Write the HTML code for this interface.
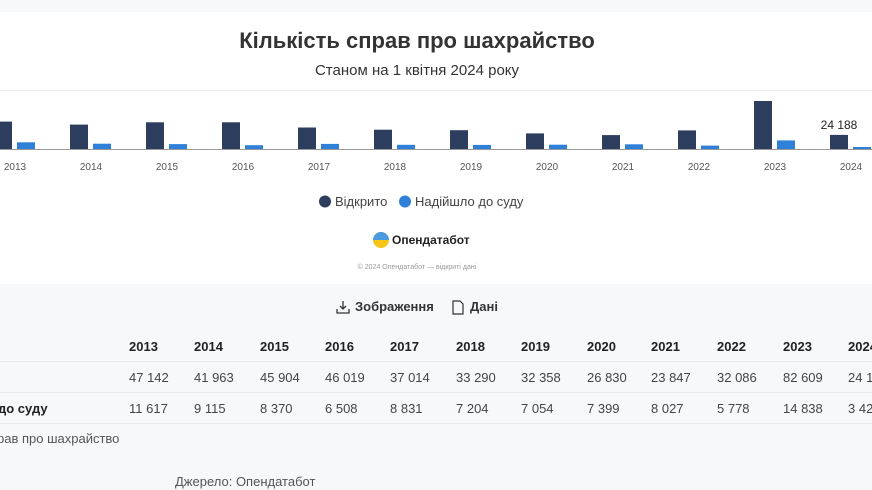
<!DOCTYPE html>
<html><head><meta charset="utf-8"><style>
body{margin:0;width:872px;height:490px;background:#f7f8fa;font-family:"Liberation Sans","DejaVu Sans",sans-serif;position:relative;overflow:hidden;color:#333}
.card{position:absolute;left:0;top:12px;width:872px;height:272px;background:#fff}
.t{position:absolute;white-space:nowrap}
.c{text-align:center}
.hd{font-weight:bold;font-size:13px;color:#222}
.v{font-size:13px;color:#444}
.sep{position:absolute;left:0;width:872px;height:1px;background:#e9ebee}
</style></head><body>
<div class="card"></div>
<div class="t c" style="left:0;width:834px;top:28px;font-size:22px;font-weight:bold;color:#333">Кількість справ про шахрайство</div>
<div class="t c" style="left:0;width:834px;top:62px;font-size:15px;color:#333">Станом на 1 квітня 2024 року</div>
<div class="sep" style="top:90px;background:#ececec"></div>
<svg style="position:absolute;left:0;top:0" width="872" height="290">
<g fill="#2d3d5e">
<rect x="-6" y="121.6" width="18" height="27.4"/>
<rect x="70" y="124.6" width="18" height="24.4"/>
<rect x="146" y="122.3" width="18" height="26.7"/>
<rect x="222" y="122.3" width="18" height="26.7"/>
<rect x="298" y="127.5" width="18" height="21.5"/>
<rect x="374" y="129.7" width="18" height="19.3"/>
<rect x="450" y="130.2" width="18" height="18.8"/>
<rect x="526" y="133.4" width="18" height="15.6"/>
<rect x="602" y="135.1" width="18" height="13.9"/>
<rect x="678" y="130.4" width="18" height="18.6"/>
<rect x="754" y="101" width="18" height="48"/>
<rect x="830" y="134.9" width="18" height="14.1"/>
</g>
<g fill="#2f80d8">
<rect x="17" y="142.3" width="18" height="6.7"/>
<rect x="93" y="143.7" width="18" height="5.3"/>
<rect x="169" y="144.1" width="18" height="4.9"/>
<rect x="245" y="145.2" width="18" height="3.8"/>
<rect x="321" y="143.9" width="18" height="5.1"/>
<rect x="397" y="144.8" width="18" height="4.2"/>
<rect x="473" y="144.9" width="18" height="4.1"/>
<rect x="549" y="144.7" width="18" height="4.3"/>
<rect x="625" y="144.3" width="18" height="4.7"/>
<rect x="701" y="145.6" width="18" height="3.4"/>
<rect x="777" y="140.4" width="18" height="8.6"/>
<rect x="853" y="147" width="18" height="2"/>
</g>
<line x1="0" y1="149.5" x2="872" y2="149.5" stroke="#999" stroke-width="1"/>
<g font-size="10" fill="#555" text-anchor="middle" font-family="Liberation Sans,sans-serif">
<text x="15" y="170">2013</text><text x="91" y="170">2014</text><text x="167" y="170">2015</text><text x="243" y="170">2016</text><text x="319" y="170">2017</text><text x="395" y="170">2018</text><text x="471" y="170">2019</text><text x="547" y="170">2020</text><text x="623" y="170">2021</text><text x="699" y="170">2022</text><text x="775" y="170">2023</text><text x="851" y="170">2024</text>
</g>
<text x="839" y="129" font-size="12" fill="#222" text-anchor="middle" font-family="Liberation Sans,sans-serif">24 188</text>
<circle cx="325" cy="201.5" r="6" fill="#2d3d5e"/>
<text x="335" y="206" font-size="13" fill="#444" font-family="Liberation Sans,sans-serif">Відкрито</text>
<circle cx="405" cy="201.5" r="6" fill="#2f80d8"/>
<text x="415" y="206" font-size="13" fill="#444" font-family="Liberation Sans,sans-serif">Надійшло до суду</text>
<circle cx="381" cy="240" r="8" fill="#f5c518"/>
<path d="M373 240 A8 8 0 0 1 389 240 Z" fill="#4a9be0"/>
<text x="392" y="244" font-size="12" font-weight="bold" fill="#222" font-family="Liberation Sans,sans-serif">Опендатабот</text>
<text x="417" y="269" font-size="7" fill="#999" text-anchor="middle" font-family="Liberation Sans,sans-serif">© 2024 Опендатабот — відкриті дані</text>
</svg>
<svg style="position:absolute;left:336px;top:300px" width="14" height="14"><path d="M7 1v8M4 6l3 3 3-3M1 9v4h12V9" stroke="#333" stroke-width="1.3" fill="none"/></svg>
<div class="t" style="left:355px;top:299px;font-size:13px;color:#333;font-weight:bold">Зображення</div>
<svg style="position:absolute;left:452px;top:300px" width="12" height="15"><path d="M1 1h7l3 3v10H1z" stroke="#333" stroke-width="1.2" fill="none"/></svg>
<div class="t" style="left:470px;top:299px;font-size:13px;color:#333;font-weight:bold">Дані</div>
<div class="sep" style="top:361px"></div>
<div class="sep" style="top:392px"></div>
<div class="sep" style="top:423px"></div>
<div style="position:absolute;left:0;top:339px">
<div class="t hd" style="left:129px">2013</div><div class="t hd" style="left:194px">2014</div><div class="t hd" style="left:260px">2015</div><div class="t hd" style="left:325px">2016</div><div class="t hd" style="left:390px">2017</div><div class="t hd" style="left:456px">2018</div><div class="t hd" style="left:521px">2019</div><div class="t hd" style="left:587px">2020</div><div class="t hd" style="left:651px">2021</div><div class="t hd" style="left:717px">2022</div><div class="t hd" style="left:783px">2023</div><div class="t hd" style="left:848px">2024</div>
</div>
<div style="position:absolute;left:0;top:370px">
<div class="t v" style="left:129px">47 142</div><div class="t v" style="left:194px">41 963</div><div class="t v" style="left:260px">45 904</div><div class="t v" style="left:325px">46 019</div><div class="t v" style="left:390px">37 014</div><div class="t v" style="left:456px">33 290</div><div class="t v" style="left:521px">32 358</div><div class="t v" style="left:587px">26 830</div><div class="t v" style="left:651px">23 847</div><div class="t v" style="left:717px">32 086</div><div class="t v" style="left:783px">82 609</div><div class="t v" style="left:848px">24 188</div>
</div>
<div style="position:absolute;left:0;top:401px">
<div class="t hd" style="left:-2px">до суду</div>
<div class="t v" style="left:129px">11 617</div><div class="t v" style="left:194px">9 115</div><div class="t v" style="left:260px">8 370</div><div class="t v" style="left:325px">6 508</div><div class="t v" style="left:390px">8 831</div><div class="t v" style="left:456px">7 204</div><div class="t v" style="left:521px">7 054</div><div class="t v" style="left:587px">7 399</div><div class="t v" style="left:651px">8 027</div><div class="t v" style="left:717px">5 778</div><div class="t v" style="left:783px">14 838</div><div class="t v" style="left:848px">3 423</div>
</div>
<div class="t" style="left:-3px;top:431px;font-size:13px;color:#555">рав про шахрайство</div>
<div class="t" style="left:175px;top:474px;font-size:13px;color:#555">Джерело: Опендатабот</div>
</body></html>
